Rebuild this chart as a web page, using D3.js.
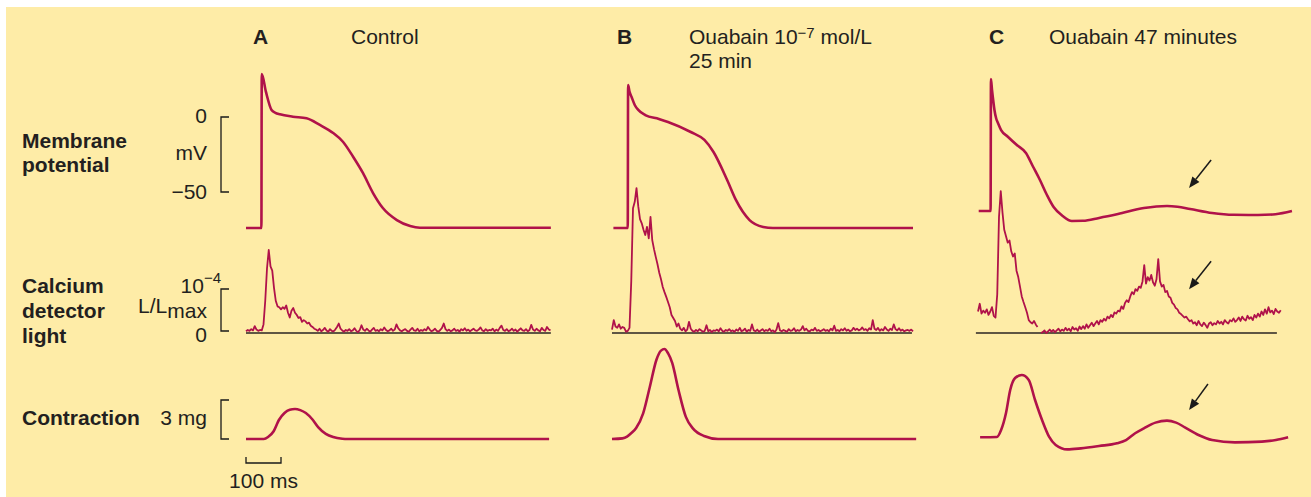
<!DOCTYPE html>
<meta charset="utf-8">
<script src="https://d3js.org/d3.v7.min.js"></script>
<style>
  body { margin: 0; background: #fff; }
  text { font-family: "Liberation Sans", Arial, Helvetica, sans-serif; font-size: 21px; fill: #231f20; }
  .bold { font-weight: bold; }
</style>
<div id="chart"></div>
<script>

// ---- data ----
var panels = ["A", "B", "C"];

// membrane potential [ms, mV]
var membraneA = [[0,-74],[44,-74],[45,28.7],[57,16.7],[73,4.7],[84,2.8],[97,1.8],[134,0.2],[173,-0.9],[211,-5.3],[249,-10.7],[277,-16.5],[306,-26.5],[334,-37.3],[363,-50.7],[391,-60.7],[431,-68.7],[469,-72.7],[497,-73.8],[871,-73.8]];
var membraneB = [[4,-74],[45,-74],[46,21.3],[50,17],[56,13.3],[65,8],[75,4.7],[95,1.3],[134,-1.3],[160,-3.3],[225,-10],[264,-15.3],[290,-23.3],[329,-42],[354,-55.3],[393,-68.7],[432,-73.3],[460,-74],[860,-74]];
var membraneC = [[2,-62.7],[36,-62.7],[37,25.3],[40,18],[44,10],[47,4.7],[52,-1],[57,-4],[66,-8.7],[86,-13.3],[111,-18.7],[137,-24],[157,-33],[177,-42],[197,-52],[216,-60],[242,-66],[268,-69.3],[300,-69.2],[346,-67.3],[400,-64.7],[474,-60.7],[540,-59.3],[570,-59.8],[606,-61.3],[669,-64],[730,-65.2],[800,-65.3],[850,-64.8],[897,-62.7]];

// calcium detector light, units of 1e-4 L/Lmax, one sample every caStep ms
var caStep = 5;
var calciumA = [0.04,0.07,0.05,0.09,0.06,0.16,0.08,0.05,0.07,0.06,
  0.2,0.75,1.5,1.93,1.55,1.45,1.05,0.75,0.62,0.6,0.55,0.6,0.56,0.64,0.47,0.36,0.52,0.58,0.47,0.42,
  0.35,0.37,0.26,0.3,0.27,0.22,0.24,0.17,0.14,0.1,
  0.08,0.05,0.1,0.04,0.07,0.12,0.06,0.03,0.09,0.05,
  0.04,0.08,0.14,0.22,0.1,0.06,0.03,0.07,0.05,0.09,
  0.04,0.06,0.11,0.05,0.02,0.07,0.18,0.08,0.05,0.1,
  0.06,0.03,0.08,0.12,0.05,0.07,0.04,0.09,0.06,0.13,
  0.07,0.04,0.06,0.1,0.05,0.08,0.2,0.11,0.06,0.04,
  0.07,0.09,0.05,0.03,0.08,0.12,0.06,0.05,0.1,0.04,
  0.07,0.05,0.09,0.06,0.14,0.08,0.04,0.06,0.1,0.05,
  0.03,0.07,0.12,0.22,0.09,0.05,0.08,0.04,0.06,0.1,
  0.05,0.07,0.03,0.09,0.06,0.11,0.05,0.08,0.04,0.07,
  0.1,0.06,0.05,0.08,0.13,0.06,0.04,0.09,0.05,0.07,
  0.06,0.1,0.04,0.08,0.05,0.12,0.17,0.07,0.05,0.09,
  0.04,0.06,0.1,0.05,0.08,0.03,0.07,0.11,0.06,0.05,
  0.09,0.04,0.07,0.19,0.08,0.05,0.1,0.06,0.04,0.12,
  0.07,0.05,0.14,0.08,0.06];
var calciumB = [0.08,0.3,0.15,0.12,0.2,0.1,0.14,0.12,0.03,0.05,
  0.12,1.2,2.9,3.05,3.37,2.95,2.65,2.55,2.4,2.28,2.47,2.2,2.7,2.16,1.95,1.77,1.6,1.4,1.25,1.07,
  0.95,0.84,0.72,0.6,0.42,0.35,0.28,0.15,0.22,0.1,
  0.06,0.12,0.04,0.08,0.26,0.1,0.05,0.03,0.07,0.04,
  0.09,0.06,0.03,0.05,0.18,0.04,0.07,0.02,0.06,0.05,
  0.08,0.04,0.11,0.05,0.03,0.07,0.05,0.09,0.04,0.06,
  0.03,0.08,0.05,0.12,0.04,0.06,0.1,0.03,0.07,0.05,
  0.2,0.06,0.04,0.08,0.03,0.06,0.09,0.04,0.07,0.05,
  0.1,0.04,0.06,0.02,0.08,0.23,0.06,0.04,0.07,0.05,
  0.03,0.09,0.05,0.06,0.11,0.04,0.07,0.05,0.08,0.16,
  0.06,0.1,0.05,0.04,0.08,0.06,0.12,0.05,0.07,0.04,
  0.06,0.09,0.05,0.07,0.04,0.1,0.06,0.17,0.05,0.07,
  0.04,0.09,0.06,0.11,0.05,0.08,0.04,0.06,0.12,0.07,
  0.1,0.06,0.08,0.13,0.07,0.09,0.05,0.11,0.08,0.3,
  0.1,0.07,0.12,0.05,0.09,0.06,0.14,0.08,0.05,0.1,
  0.07,0.2,0.09,0.06,0.11,0.05,0.08,0.04,0.06,0.07,
  0.05,0.08,0.04];
var calciumC = [0.5,0.68,0.45,0.52,0.47,0.55,0.42,0.5,0.6,0.4,0.36,
  0.9,2.7,3.3,2.8,2.4,2.25,2.1,2.15,1.9,1.78,1.85,1.45,1.3,1.08,0.85,0.72,0.6,0.47,0.3,
  0.25,0.22,0.28,0.2,0.14,null,0.0,
  0.02,0.06,0.0,0.04,0.08,0.03,0.07,0.02,0.06,0.1,
  0.04,0.08,0.05,0.12,0.06,0.1,0.04,0.14,0.08,0.11,
  0.05,0.15,0.09,0.16,0.1,0.2,0.12,0.18,0.24,0.16,
  0.22,0.28,0.2,0.3,0.26,0.33,0.29,0.38,0.34,0.42,
  0.37,0.48,0.45,0.52,0.5,0.62,0.56,0.7,0.76,0.72,
  0.85,0.95,0.9,1.02,0.98,1.08,1.05,1.2,1.58,1.15,
  1.3,1.22,1.35,1.18,1.1,1.25,1.72,1.2,1.08,1.12,
  0.95,0.98,0.85,0.82,0.7,0.66,0.58,0.55,0.47,0.44,
  0.4,0.36,0.38,0.32,0.27,0.3,0.22,0.25,0.18,0.28,
  0.2,0.16,0.24,0.19,0.12,0.22,0.25,0.18,0.23,0.2,
  0.28,0.22,0.26,0.2,0.3,0.25,0.22,0.3,0.27,0.34,
  0.26,0.3,0.36,0.28,0.38,0.32,0.29,0.4,0.33,0.37,
  0.3,0.42,0.36,0.45,0.38,0.5,0.42,0.55,0.45,0.6,
  0.48,0.52,0.44,0.56,0.5,0.47,0.53];
// time span of the zero line under each calcium record [ms]
var caZeroSpan = [[0, 871], [0, 857], [-6, 854]];

// contraction [ms, mg]
var contractionA = [[0,0],[51,0],[63,0.15],[79,0.6],[94,1.46],[110,2.0],[125,2.25],[140,2.31],[155,2.22],[171,2.0],[190,1.5],[206,0.92],[228,0.4],[249,0.15],[275,0.02],[291,0],[866,0]];
var contractionB = [[0,0],[30,0.05],[43,0.18],[55,0.45],[69,0.85],[89,1.97],[108,4.0],[127,6.1],[140,6.8],[150,6.92],[160,6.6],[172,5.85],[190,3.77],[211,1.7],[231,0.82],[263,0.23],[303,0],[869,0]];
var contractionC = [[6,0.13],[54,0.15],[66,0.69],[80,2.0],[92,3.77],[106,4.69],[125,4.92],[145,4.54],[163,3.0],[183,1.46],[203,0.18],[222,-0.46],[255,-0.8],[294,-0.72],[346,-0.54],[397,-0.33],[423,-0.08],[449,0.44],[474,0.82],[507,1.26],[540,1.41],[566,1.26],[591,0.9],[630,0.31],[669,-0.08],[734,-0.26],[811,-0.2],[851,-0.08],[886,0.13]];

// arrows in panel C: [tail, tip] in the row's own units
var arrowsC = [
  {row: "mem", tail: [666, -28.7], tip: [603, -47.3]},
  {row: "ca",  tail: [666, 1.67],  tip: [603, 1.02]},
  {row: "con", tail: [657, 4.23],  tip: [603, 2.23]}
];

// ---- layout ----
var width = 1311, height = 497;
var ink = "#b0124a";
var panelLeft = [246, 612, 978];

var svg = d3.select("#chart").append("svg")
    .attr("width", width)
    .attr("height", height);

svg.append("rect")
    .attr("x", 6).attr("y", 7)
    .attr("width", width - 6).attr("height", height - 7)
    .attr("fill", "#feeca7");

// 100 ms = 35 px
var xs = panelLeft.map(function(x0) {
  return d3.scaleLinear().domain([0, 100]).range([x0, x0 + 35]);
});
var yMem = d3.scaleLinear().domain([-50, 0]).range([192, 117]);
var yCa = d3.scaleLinear().domain([0, 1]).range([333, 290]);
var yCon = d3.scaleLinear().domain([0, 3]).range([439, 400]);
var yRow = {mem: yMem, ca: yCa, con: yCon};

var membranes = [membraneA, membraneB, membraneC];
var calciums = [calciumA, calciumB, calciumC];
var contractions = [contractionA, contractionB, contractionC];

panels.forEach(function(p, i) {
  var x = xs[i];

  var smooth = function(y) {
    return d3.line()
      .x(function(d) { return x(d[0]); })
      .y(function(d) { return y(d[1]); })
      .curve(d3.curveMonotoneX);
  };

  svg.append("path")
    .attr("d", smooth(yMem)(membranes[i]))
    .attr("fill", "none").attr("stroke", ink)
    .attr("stroke-width", 2.6).attr("stroke-linejoin", "round");

  // zero line of calcium record
  svg.append("line")
    .attr("x1", x(caZeroSpan[i][0])).attr("x2", x(caZeroSpan[i][1]))
    .attr("y1", yCa(0)).attr("y2", yCa(0))
    .attr("stroke", "#2a2522").attr("stroke-width", 1.6);

  var caLine = d3.line()
    .defined(function(d) { return d != null; })
    .x(function(d, j) { return x(j * caStep); })
    .y(function(d) { return yCa(d); });

  svg.append("path")
    .attr("d", caLine(calciums[i]))
    .attr("fill", "none").attr("stroke", ink)
    .attr("stroke-width", 1.8).attr("stroke-linejoin", "round");

  svg.append("path")
    .attr("d", smooth(yCon)(contractions[i]))
    .attr("fill", "none").attr("stroke", ink)
    .attr("stroke-width", 2.6).attr("stroke-linejoin", "round");
});

// arrows
arrowsC.forEach(function(a) {
  var x = xs[2], y = yRow[a.row];
  var x1 = x(a.tail[0]), y1 = y(a.tail[1]), x2 = x(a.tip[0]), y2 = y(a.tip[1]);
  var ang = Math.atan2(y2 - y1, x2 - x1);
  var hl = 11, hw = 4.5;
  var bx = x2 - hl * Math.cos(ang), by = y2 - hl * Math.sin(ang);
  svg.append("line")
    .attr("x1", x1).attr("y1", y1).attr("x2", bx).attr("y2", by)
    .attr("stroke", "#1a1a1a").attr("stroke-width", 1.5);
  svg.append("path")
    .attr("d", "M" + x2 + "," + y2 +
      "L" + (bx + hw * Math.sin(ang)) + "," + (by - hw * Math.cos(ang)) +
      "L" + (bx - hw * Math.sin(ang)) + "," + (by + hw * Math.cos(ang)) + "Z")
    .attr("fill", "#1a1a1a");
});

// scale brackets
function bracket(y0, y1) {
  svg.append("path")
    .attr("d", "M229," + y0 + "H221V" + y1 + "H229")
    .attr("fill", "none").attr("stroke", "#1a1a1a").attr("stroke-width", 1.3);
}
bracket(yMem(0), yMem(-50));
bracket(yCa(1) - 1, yCa(0) - 2);
bracket(yCon(3), yCon(0));

// time bar
var xA = xs[0];
svg.append("path")
  .attr("d", "M" + xA(0) + ",457V463H" + xA(100) + "V457")
  .attr("fill", "none").attr("stroke", "#1a1a1a").attr("stroke-width", 1.3);
svg.append("text").attr("x", xA(50)).attr("y", 488)
  .attr("text-anchor", "middle").text("100 ms");

// ---- texts ----
function label(x, y, str, cls, anchor) {
  return svg.append("text").attr("x", x).attr("y", y)
    .attr("class", cls || null)
    .attr("text-anchor", anchor || "start")
    .text(str);
}

label(253, 44, "A", "bold");
label(351, 44, "Control");
label(617, 44, "B", "bold");
var tb = svg.append("text").attr("x", 689).attr("y", 44);
tb.append("tspan").text("Ouabain 10");
tb.append("tspan").attr("dy", -6).style("font-size", "15px").text("\u22127");
tb.append("tspan").attr("dy", 6).text(" mol/L");
label(689, 68, "25 min");
label(989, 44, "C", "bold");
label(1049, 44, "Ouabain 47 minutes");

label(22, 148, "Membrane", "bold");
label(22, 172, "potential", "bold");
label(207, 123, "0", null, "end");
label(207, 160, "mV", null, "end");
label(207, 199, "\u221250", null, "end");

label(22, 293, "Calcium", "bold");
label(22, 318, "detector", "bold");
label(22, 343, "light", "bold");
var t10 = svg.append("text").attr("x", 221).attr("y", 293).attr("text-anchor", "end");
t10.append("tspan").text("10");
t10.append("tspan").attr("dy", -10).style("font-size", "15px").text("\u22124");
var tl = svg.append("text").attr("x", 207).attr("y", 313).attr("text-anchor", "end");
tl.append("tspan").text("L/L");
tl.append("tspan").attr("dy", 5).text("max");
label(207, 342, "0", null, "end");

label(22, 425, "Contraction", "bold");
label(207, 425, "3 mg", null, "end");

</script>
